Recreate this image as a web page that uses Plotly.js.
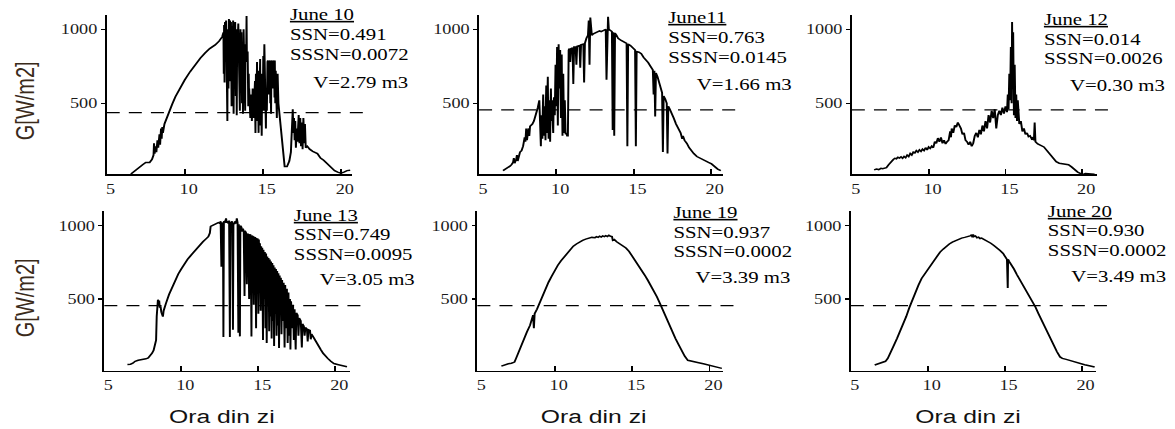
<!DOCTYPE html>
<html><head><meta charset="utf-8">
<script src="https://cdn.plot.ly/plotly-3.0.1.min.js"></script>
<style>
html,body{margin:0;padding:0;background:#fff;overflow:hidden;width:1175px;height:429px}
#chart{width:904px;height:429px;transform:scaleX(1.3);transform-origin:0 0}
</style>
</head><body><div id="chart"></div>
<script>
// ---------- DATA ----------
const dayLabels = ['June 10','June11','June 12','June 13','June 19','June 20'];
const ssnValues = ['0.491','0.763','0.014','0.749','0.937','0.930'];
const sssnValues = ['0.0072','0.0145','0.0026','0.0095','0.0002','0.0002'];
const volumeValues = ['2.79','1.66','0.30','3.05','3.39','3.49'];
const thresholdG = [437, 455, 455, 455, 455, 455];
const xTickVals = [5, 10, 15, 20];
const yTickVals = [500, 1000];
const xTitle = 'Ora din zi';
const yTitle = 'G[W/m2]';

const june10Hours = [6.55,6.8,7.0,7.3,7.5,7.75,7.9,8.0,8.03,8.07,8.12,8.18,8.25,8.3,8.38,8.42,8.48,8.52,8.56,8.6,8.7,8.8,9.0,9.2,9.4,9.7,10.0,10.35,10.7,11.0,11.3,11.6,11.95,12.2,12.4,12.47,
12.48,12.5,12.51,12.52,12.535,12.55,12.565,12.58,12.6,12.62,12.635,12.65,12.665,12.68,12.69,12.7,12.715,12.73,12.745,12.76,12.78,12.8,12.815,12.83,12.845,12.86,12.88,12.9,12.915,12.93,12.945,12.96,12.98,13.0,13.015,13.03,13.045,13.06,13.08,13.1,13.115,13.13,13.145,13.16,13.18,13.2,13.215,13.23,13.25,13.27,13.285,13.3,13.315,13.33,13.35,13.37,13.385,13.4,13.415,13.43,13.45,13.47,13.485,13.5,13.515,13.53,13.55,13.57,13.585,13.6,13.615,13.63,13.65,13.67,13.685,13.7,13.715,13.73,13.75,13.77,13.785,13.8,13.815,13.83,13.85,13.87,13.885,13.9,13.915,13.93,13.945,13.96,13.98,14.0,14.015,14.03,14.05,14.07,14.085,14.1,14.115,14.13,
14.2,14.25,14.3,14.35,14.4,14.45,
14.5,14.515,14.53,14.545,14.56,14.58,14.6,14.615,14.63,14.645,14.66,14.68,14.7,14.715,14.73,14.745,14.76,14.78,14.8,14.815,14.83,14.845,14.86,14.88,14.9,14.915,14.93,14.945,14.96,14.98,15.0,15.015,15.03,15.045,15.06,15.08,15.1,15.115,15.13,15.145,15.16,15.18,15.2,15.215,15.23,15.245,15.26,15.28,15.3,
15.33,15.36,15.38,15.4,15.42,15.45,15.48,15.5,15.53,15.55,15.58,15.61,15.63,15.66,15.68,15.72,15.75,15.77,15.8,15.83,15.85,15.88,15.9,15.93,15.95,
16.0,16.1,16.2,16.3,16.4,16.55,16.7,16.8,16.88,16.92,16.96,17.0,17.04,17.08,17.12,17.18,17.22,17.3,17.35,17.4,17.45,17.5,17.55,17.6,17.66,17.7,17.75,17.85,18.0,18.2,18.5,18.7,18.9,19.1,19.35,19.6,19.8,20.0,20.2,20.4,20.6];
const june10G = [22,45,65,85,100,100,120,150,230,160,210,170,250,200,290,220,330,260,340,300,360,390,444,495,545,605,658,715,765,805,840,870,895,920,950,975,
980,700,1010,1030,760,640,980,1050,900,820,1040,1060,720,500,900,1040,700,380,850,1000,820,600,980,1070,760,900,1000,1060,820,650,940,1050,700,480,880,1020,820,700,960,1060,620,430,800,980,900,760,1000,1050,780,550,870,1000,650,420,800,950,880,800,990,1040,760,600,850,900,620,450,820,1000,800,720,940,980,700,500,760,850,560,430,820,1000,780,650,860,900,600,450,900,1080,900,780,1000,1090,800,600,780,850,620,480,640,700,560,600,
400,560,380,600,400,520,
650,420,300,560,700,520,420,640,780,560,380,520,640,420,300,580,720,600,500,700,800,520,350,480,560,380,280,520,700,520,400,650,820,600,450,760,900,720,600,700,750,500,330,540,680,520,450,650,780,
790,620,790,560,780,790,500,780,430,770,790,650,790,600,790,780,540,790,500,720,600,680,400,650,700,
500,380,300,130,72,72,110,170,300,460,300,400,250,380,200,330,240,420,230,400,210,370,190,400,230,360,200,210,190,175,160,130,115,95,70,45,35,27,35,45,48];

const june11Hours = [6.55,6.8,7.0,7.1,7.2,7.25,7.3,7.4,7.45,7.5,7.6,7.65,7.75,7.85,7.95,8.0,8.05,8.1,8.2,8.25,8.3,8.45,8.55,8.7,8.8,8.9,8.95,
9.0,9.025,9.05,9.075,9.1,9.125,9.15,9.175,9.2,9.225,9.25,9.275,9.3,9.325,9.35,9.375,9.4,9.425,9.45,9.475,9.5,9.525,9.55,9.575,9.6,9.625,9.65,9.675,9.7,9.725,9.75,9.775,9.8,9.825,9.85,9.875,9.9,9.925,9.95,9.975,10.0,10.025,10.05,10.075,10.1,10.125,10.15,10.175,10.2,10.225,10.25,10.275,10.3,10.325,10.35,10.375,10.4,10.425,10.45,10.475,10.5,10.525,10.55,10.575,10.6,10.65,10.7,
10.75,10.8,10.85,10.9,10.95,11.05,11.1,11.15,11.25,11.3,11.35,11.5,11.55,11.6,11.75,11.8,11.85,11.95,12.05,12.1,12.15,12.2,12.25,12.3,12.4,12.5,12.6,12.7,12.8,12.9,13.0,13.1,13.2,13.25,13.3,13.35,13.4,13.5,13.6,13.65,13.7,13.75,13.8,13.9,
14.0,14.2,14.4,14.55,14.6,14.65,14.8,14.95,15.1,15.15,15.2,15.35,15.5,15.65,15.8,15.95,16.1,16.25,16.3,16.35,16.4,16.45,16.55,16.65,16.75,16.85,16.9,16.95,17.05,17.15,17.2,17.25,17.35,17.45,17.6,17.75,17.9,18.05,18.15,18.2,18.3,18.45,18.6,18.75,18.9,19.1,19.35,19.6,19.85,20.05,20.25,20.45,20.65];
const june11G = [45,60,75,85,100,130,95,120,150,110,140,170,180,210,270,240,330,250,330,280,345,360,380,430,470,520,300,
210,380,420,300,260,450,560,380,280,420,480,330,250,500,620,420,300,560,680,400,260,440,520,330,240,480,600,450,380,520,460,360,300,480,540,470,420,640,760,560,480,760,880,560,350,700,900,720,600,800,860,560,400,700,830,500,280,560,700,420,300,450,520,380,290,300,280,
280,860,870,780,870,875,630,880,880,760,885,890,740,895,900,640,905,940,960,1060,760,1080,980,960,970,975,980,985,990,985,990,995,1000,660,1040,1085,1000,990,985,320,980,280,975,960,
940,925,915,905,210,900,890,875,860,210,850,845,835,810,795,775,750,725,560,720,410,705,680,640,600,570,170,550,530,500,160,480,460,440,400,360,330,300,260,280,250,230,200,175,160,140,125,110,100,90,70,55,45];

const june12Hours = [6.45,6.6,6.75,6.9,7.0,7.1,7.25,7.4,7.5,7.6,7.7,7.8,7.9,8.0,8.1,8.2,8.3,8.4,8.5,8.6,8.7,8.8,8.9,9.0,9.1,9.2,9.3,9.4,9.5,9.6,9.7,9.8,9.9,10.0,10.1,10.2,10.3,10.4,10.5,10.6,10.7,10.8,10.9,11.0,11.1,11.2,11.3,11.4,11.45,11.5,11.6,11.7,11.8,11.9,12.0,12.1,12.2,12.3,12.4,12.5,12.6,12.7,12.8,12.9,13.0,13.1,13.2,13.3,13.4,13.5,13.6,13.7,13.8,13.9,14.0,14.1,14.2,14.3,14.4,14.5,14.6,14.7,14.8,14.9,15.0,15.1,15.15,15.2,15.25,15.3,15.35,15.4,15.43,15.47,15.5,15.55,15.6,15.65,15.7,15.75,15.8,15.9,16.0,16.1,16.2,16.3,16.4,16.5,16.6,16.7,16.8,16.85,16.9,16.95,17.1,17.3,17.5,17.7,17.9,18.1,18.3,18.5,18.8,19.1,19.3,19.5,19.7,19.9,20.0,20.2,20.5,20.8];
const june12G = [50,55,52,60,58,62,65,85,100,110,120,128,125,135,130,138,128,140,132,150,140,160,150,170,165,180,170,185,175,190,180,200,185,205,195,210,200,240,230,265,240,270,230,250,225,240,250,310,270,330,300,350,340,370,355,330,290,300,250,240,220,240,210,230,280,300,270,320,290,350,310,380,330,420,370,450,400,460,330,420,450,420,470,430,480,440,560,460,700,520,880,500,1050,600,980,420,760,400,560,380,520,360,380,310,330,290,300,275,280,260,270,250,370,240,225,215,205,180,155,130,105,95,92,85,70,50,35,25,18,25,22,20];

const june13Hours = [6.5,6.7,6.85,7.0,7.2,7.5,7.7,7.85,8.0,8.1,8.2,8.3,8.36,8.4,8.44,8.48,8.52,8.56,8.6,8.65,8.7,8.75,8.8,8.85,8.9,9.0,9.2,9.4,9.6,9.8,10.0,10.2,10.4,10.6,10.8,11.0,11.2,11.4,11.6,11.75,11.85,11.9,12.0,12.1,12.2,12.3,12.4,12.5,12.55,12.6,12.63,12.7,12.73,12.76,12.85,12.9,12.95,13.0,13.05,13.1,13.15,13.18,13.25,13.3,13.35,13.38,13.45,13.5,13.55,13.6,13.65,13.7,13.73,13.8,13.83,13.9,13.95,14.0,14.05,14.1,14.13,14.2,14.25,14.28,14.35,14.4,14.43,14.5,14.55,14.58,14.65,14.7,14.73,14.8,14.85,14.88,14.93,14.96,15.0,15.03,15.08,15.1,15.15,15.18,15.22,15.25,15.3,15.33,15.38,15.42,15.46,15.5,15.54,15.58,15.62,15.66,15.7,15.74,15.78,15.82,15.86,15.9,15.94,15.98,16.02,16.06,16.1,16.14,16.18,16.22,16.26,16.3,16.34,16.38,16.42,16.46,16.5,16.54,16.6,16.64,16.7,16.74,16.8,16.85,16.9,16.95,17.0,17.05,17.08,17.12,17.2,17.25,17.3,17.35,17.42,17.46,17.55,17.6,17.65,17.75,17.82,17.86,17.95,18.0,18.05,18.15,18.2,18.25,18.35,18.4,18.45,18.6,18.75,18.9,19.05,19.2,19.35,19.5,19.7,19.9,20.2,20.5,20.75];
const june13G = [54,55,62,75,82,85,92,98,115,130,150,185,220,380,470,495,480,490,440,450,410,400,380,420,440,470,530,580,620,670,705,740,770,795,820,845,865,890,910,925,950,995,1000,1005,1010,1015,1020,1015,1030,720,1020,1010,240,1030,1025,1050,1020,1030,1015,1035,240,1025,1020,1030,290,1020,1010,1030,1015,1050,1020,270,1010,245,1000,990,960,980,960,520,965,950,600,945,940,500,940,935,245,930,925,460,920,918,300,915,600,912,400,905,700,880,420,860,550,850,220,835,500,820,300,810,200,790,450,780,280,770,380,755,230,745,350,730,180,715,400,705,250,690,320,675,165,660,400,645,260,630,350,610,170,595,300,570,200,545,250,500,155,485,300,460,220,430,155,405,390,250,370,350,170,330,315,250,305,295,210,290,285,225,260,235,205,180,155,130,110,95,75,60,52,45,38];

const june19Hours = [6.55,6.8,7.0,7.2,7.4,7.5,7.65,7.8,8.0,8.2,8.4,8.55,8.6,8.65,8.7,8.85,9.0,9.2,9.4,9.6,9.8,10.0,10.2,10.4,10.6,10.8,11.0,11.2,11.4,11.6,11.8,12.0,12.2,12.4,12.6,12.7,12.8,12.9,13.0,13.1,13.2,13.3,13.4,13.5,13.6,13.7,13.75,13.85,14.0,14.2,14.4,14.6,14.8,15.0,15.2,15.4,15.6,15.8,16.0,16.2,16.4,16.6,16.8,17.0,17.2,17.4,17.6,17.8,18.0,18.2,18.4,18.6,18.8,19.0,19.3,19.6,19.9,20.2,20.5,20.8];
const june19G = [42,52,58,62,70,95,135,180,230,275,320,365,390,300,400,430,470,525,570,615,655,695,730,760,785,810,835,860,875,890,900,908,915,920,918,925,920,928,922,930,925,932,926,935,928,925,900,905,890,875,862,848,825,795,760,730,695,665,630,595,560,515,470,420,365,320,275,230,190,145,110,82,76,72,65,58,50,42,35,27];

const june20Hours = [6.55,6.8,7.0,7.25,7.4,7.6,7.8,8.0,8.2,8.4,8.6,8.8,9.0,9.2,9.4,9.6,9.8,10.0,10.2,10.4,10.6,10.8,11.0,11.2,11.4,11.6,11.8,12.0,12.2,12.4,12.6,12.75,12.85,12.9,12.95,13.0,13.1,13.2,13.3,13.4,13.5,13.7,13.9,14.1,14.3,14.5,14.7,14.9,15.05,15.15,15.2,15.22,15.3,15.4,15.6,15.8,16.0,16.2,16.4,16.6,16.8,17.0,17.2,17.4,17.6,17.8,18.0,18.2,18.4,18.6,18.75,19.0,19.3,19.6,19.9,20.2,20.5,20.85];
const june20G = [50,57,65,75,95,135,185,230,275,325,380,440,495,550,595,640,670,700,735,765,795,820,840,860,875,888,898,905,915,920,925,930,938,920,940,925,930,918,922,912,915,905,895,880,865,850,830,810,790,770,575,770,755,740,705,665,630,595,560,520,485,445,400,355,310,265,225,180,140,105,95,88,78,68,60,52,45,36];

const seriesHours = [june10Hours, june11Hours, june12Hours, june13Hours, june19Hours, june20Hours];
const seriesG = [june10G, june11G, june12G, june13G, june19G, june20G];

// ---------- LAYOUT (reference pixel geometry) ----------
const W = 1175, H = 429;
const xDom = [[106.7,351.7],[479,723],[851.7,1096.7],[104.3,350],[477.3,723.3],[850.7,1096]];
const yDom = [[15,174.3],[15,174.3],[15,174.3],[210.7,370.7],[210.7,370.7],[210.7,370.7]];
const xRanges = [[5,20.7],[5,20.8],[5,20.95],[5,20.95],[5,20.9],[5,20.95]];
const yRanges = [[20,1097],[20,1097],[20,1097],[11,1102],[11,1102],[11,1102]];
const textLeft = [289, 668, 1042.7, 293.3, 673.3, 1047.3];
const vLeft = [313, 696.7, 1069, 319, 695, 1070.7];
const baselines = [[20,40,60,88],[23,43,63,90],[25,45,64,90.7],[221,240,260,285],[218,238,256.7,283],[216.7,236,256,281.7]];
const xTitleCenters = [221, 593, 968];
const yTitleCenters = [101, 298];

const serif = 'Liberation Serif, Times New Roman, serif';
const sans = 'Liberation Sans, Arial, sans-serif';
const annFont = 16;

const traces = [];
const layout = {
  width: 904, height: 429, autosize: false,
  margin: {l:0, r:0, t:0, b:0, pad:0},
  paper_bgcolor: '#fff', plot_bgcolor: '#fff',
  showlegend: false,
  shapes: [], annotations: []
};

for (let i = 0; i < 6; i++) {
  const n = i === 0 ? '' : String(i + 1);
  traces.push({
    x: seriesHours[i], y: seriesG[i], xaxis: 'x' + n, yaxis: 'y' + n,
    type: 'scatter', mode: 'lines',
    line: {color: '#000', width: 1.5}, hoverinfo: 'skip'
  });
  layout['xaxis' + n] = {
    domain: [xDom[i][0] / W, xDom[i][1] / W], anchor: 'y' + n,
    range: xRanges[i], tickvals: xTickVals, ticktext: xTickVals.map(String),
    showgrid: false, zeroline: false, showline: true, linecolor: '#000', linewidth: 1.5,
    ticks: 'inside', ticklen: 5, tickwidth: 1.5, tickcolor: '#000',
    ticklabelshift: 3, ticklabelstandoff: 1,
    tickfont: {family: serif, size: 14, color: '#1a1a1a'}, fixedrange: true
  };
  layout['yaxis' + n] = {
    domain: [1 - yDom[i][1] / H, 1 - yDom[i][0] / H], anchor: 'x' + n,
    range: yRanges[i], tickvals: yTickVals, ticktext: yTickVals.map(String),
    showgrid: false, zeroline: false, showline: true, linecolor: '#000', linewidth: 1.5,
    ticks: 'outside', ticklen: 3, tickwidth: 1.5, tickcolor: '#000',
    tickfont: {family: serif, size: 14, color: '#1a1a1a'}, fixedrange: true
  };
  layout.shapes.push({
    type: 'line', xref: 'x' + n + ' domain', yref: 'y' + n,
    x0: 0, x1: 1.073, y0: thresholdG[i], y1: thresholdG[i],
    line: {color: '#000', width: 1.2, dash: '10px,7px'}
  });
  const lines = ['<u>' + dayLabels[i] + '</u>', 'SSN=' + ssnValues[i], 'SSSN=' + sssnValues[i], 'V=' + volumeValues[i] + ' m3'];
  lines.forEach((t, k) => {
    const left = k === 3 ? vLeft[i] : textLeft[i];
    layout.annotations.push({
      text: t, xref: 'paper', yref: 'paper', showarrow: false,
      x: (left - 2) / W, xanchor: 'left',
      y: 1 - (baselines[i][k] - 0.3375 * annFont) / H, yanchor: 'middle',
      font: {family: serif, size: annFont, color: '#000'}
    });
  });
}
for (let c = 0; c < 3; c++) {
  layout.annotations.push({
    text: xTitle, xref: 'paper', yref: 'paper', showarrow: false,
    x: xTitleCenters[c] / W, xanchor: 'center', y: 1 - 416 / H, yanchor: 'middle',
    font: {family: sans, size: 19, color: '#111'}
  });
}
for (let r = 0; r < 2; r++) {
  layout.annotations.push({
    text: yTitle, xref: 'paper', yref: 'paper', showarrow: false, textangle: -90,
    x: 25 / W, xanchor: 'center', y: 1 - yTitleCenters[r] / H, yanchor: 'middle',
    font: {family: sans, size: 20, color: '#3a2a1a'}
  });
}

Plotly.newPlot('chart', traces, layout, {displayModeBar: false, staticPlot: true});
</script></body></html>
